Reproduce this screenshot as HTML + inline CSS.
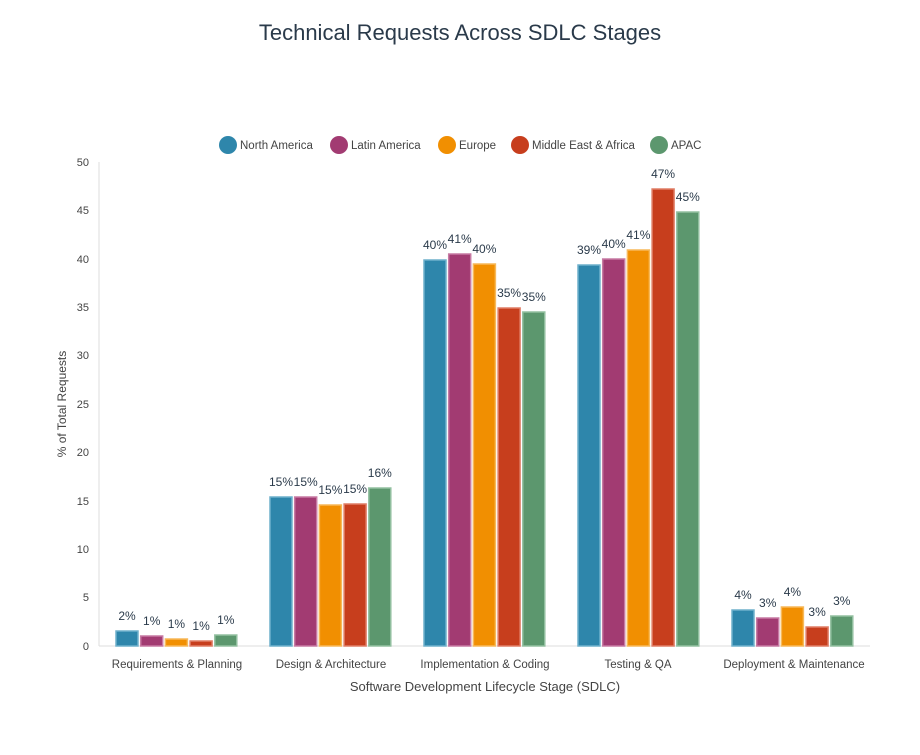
<!DOCTYPE html>
<html><head><meta charset="utf-8"><style>
body{margin:0;background:#fff;}
svg text{font-family:"Liberation Sans",sans-serif;}
</style></head><body>
<svg width="920" height="750" xmlns="http://www.w3.org/2000/svg">
<text x="460" y="40" text-anchor="middle" font-size="22" fill="#2a3a4a">Technical Requests Across SDLC Stages</text>
<g font-size="11.5" fill="#444">
<circle cx="228" cy="145" r="9" fill="#2e86ab"/><text x="240" y="149">North America</text>
<circle cx="339" cy="145" r="9" fill="#a23b72"/><text x="351" y="149">Latin America</text>
<circle cx="447" cy="145" r="9" fill="#f18f01"/><text x="459" y="149">Europe</text>
<circle cx="520" cy="145" r="9" fill="#c73e1d"/><text x="532" y="149">Middle East &amp; Africa</text>
<circle cx="659" cy="145" r="9" fill="#5c976e"/><text x="671" y="149">APAC</text>
</g>
<line x1="99" y1="162" x2="99" y2="646" stroke="#ddd"/>
<line x1="99" y1="646" x2="870" y2="646" stroke="#ddd"/>
<g font-size="11" fill="#444" text-anchor="end">
<text x="89" y="650">0</text><text x="89" y="601">5</text><text x="89" y="553">10</text><text x="89" y="505">15</text><text x="89" y="456">20</text><text x="89" y="408">25</text><text x="89" y="359">30</text><text x="89" y="311">35</text><text x="89" y="263">40</text><text x="89" y="214">45</text><text x="89" y="166">50</text>
</g>
<text transform="translate(66,404) rotate(-90)" text-anchor="middle" font-size="12" fill="#444">% of Total Requests</text>
<g stroke-width="1.5">
<rect x="116" y="631" width="22" height="15" fill="#2e86ab" stroke="#6fb0cc"/>
<rect x="140.7" y="636" width="22" height="10" fill="#a23b72" stroke="#c77aa3"/>
<rect x="165.4" y="639" width="22" height="7" fill="#f18f01" stroke="#f7b95a"/>
<rect x="190.1" y="641" width="22" height="5" fill="#c73e1d" stroke="#e07e66"/>
<rect x="214.8" y="635" width="22" height="11" fill="#5c976e" stroke="#93c0a0"/>

<rect x="270" y="497" width="22" height="149" fill="#2e86ab" stroke="#6fb0cc"/>
<rect x="294.7" y="497" width="22" height="149" fill="#a23b72" stroke="#c77aa3"/>
<rect x="319.4" y="505" width="22" height="141" fill="#f18f01" stroke="#f7b95a"/>
<rect x="344.1" y="504" width="22" height="142" fill="#c73e1d" stroke="#e07e66"/>
<rect x="368.8" y="488" width="22" height="158" fill="#5c976e" stroke="#93c0a0"/>

<rect x="424" y="260" width="22" height="386" fill="#2e86ab" stroke="#6fb0cc"/>
<rect x="448.7" y="254" width="22" height="392" fill="#a23b72" stroke="#c77aa3"/>
<rect x="473.4" y="264" width="22" height="382" fill="#f18f01" stroke="#f7b95a"/>
<rect x="498.1" y="308" width="22" height="338" fill="#c73e1d" stroke="#e07e66"/>
<rect x="522.8" y="312" width="22" height="334" fill="#5c976e" stroke="#93c0a0"/>

<rect x="578" y="265" width="22" height="381" fill="#2e86ab" stroke="#6fb0cc"/>
<rect x="602.7" y="259" width="22" height="387" fill="#a23b72" stroke="#c77aa3"/>
<rect x="627.4" y="250" width="22" height="396" fill="#f18f01" stroke="#f7b95a"/>
<rect x="652.1" y="189" width="22" height="457" fill="#c73e1d" stroke="#e07e66"/>
<rect x="676.8" y="212" width="22" height="434" fill="#5c976e" stroke="#93c0a0"/>

<rect x="732" y="610" width="22" height="36" fill="#2e86ab" stroke="#6fb0cc"/>
<rect x="756.7" y="618" width="22" height="28" fill="#a23b72" stroke="#c77aa3"/>
<rect x="781.4" y="607" width="22" height="39" fill="#f18f01" stroke="#f7b95a"/>
<rect x="806.1" y="627" width="22" height="19" fill="#c73e1d" stroke="#e07e66"/>
<rect x="830.8" y="616" width="22" height="30" fill="#5c976e" stroke="#93c0a0"/>
</g>
<g font-size="12" fill="#2a3a4a" text-anchor="middle">
<text x="127" y="620">2%</text><text x="151.7" y="625">1%</text><text x="176.4" y="628">1%</text><text x="201.1" y="630">1%</text><text x="225.8" y="624">1%</text>
<text x="281" y="486">15%</text><text x="305.7" y="486">15%</text><text x="330.4" y="494">15%</text><text x="355.1" y="493">15%</text><text x="379.8" y="477">16%</text>
<text x="435" y="249">40%</text><text x="459.7" y="243">41%</text><text x="484.4" y="253">40%</text><text x="509.1" y="297">35%</text><text x="533.8" y="301">35%</text>
<text x="589" y="254">39%</text><text x="613.7" y="248">40%</text><text x="638.4" y="239">41%</text><text x="663.1" y="178">47%</text><text x="687.8" y="201">45%</text>
<text x="743" y="599">4%</text><text x="767.7" y="607">3%</text><text x="792.4" y="596">4%</text><text x="817.1" y="616">3%</text><text x="841.8" y="605">3%</text>
</g>
<g font-size="11.5" fill="#444" text-anchor="middle">
<text x="177" y="668">Requirements &amp; Planning</text>
<text x="331" y="668">Design &amp; Architecture</text>
<text x="485" y="668">Implementation &amp; Coding</text>
<text x="638" y="668">Testing &amp; QA</text>
<text x="794" y="668">Deployment &amp; Maintenance</text>
<text x="485" y="691" font-size="13">Software Development Lifecycle Stage (SDLC)</text>
</g>
</svg>
</body></html>
